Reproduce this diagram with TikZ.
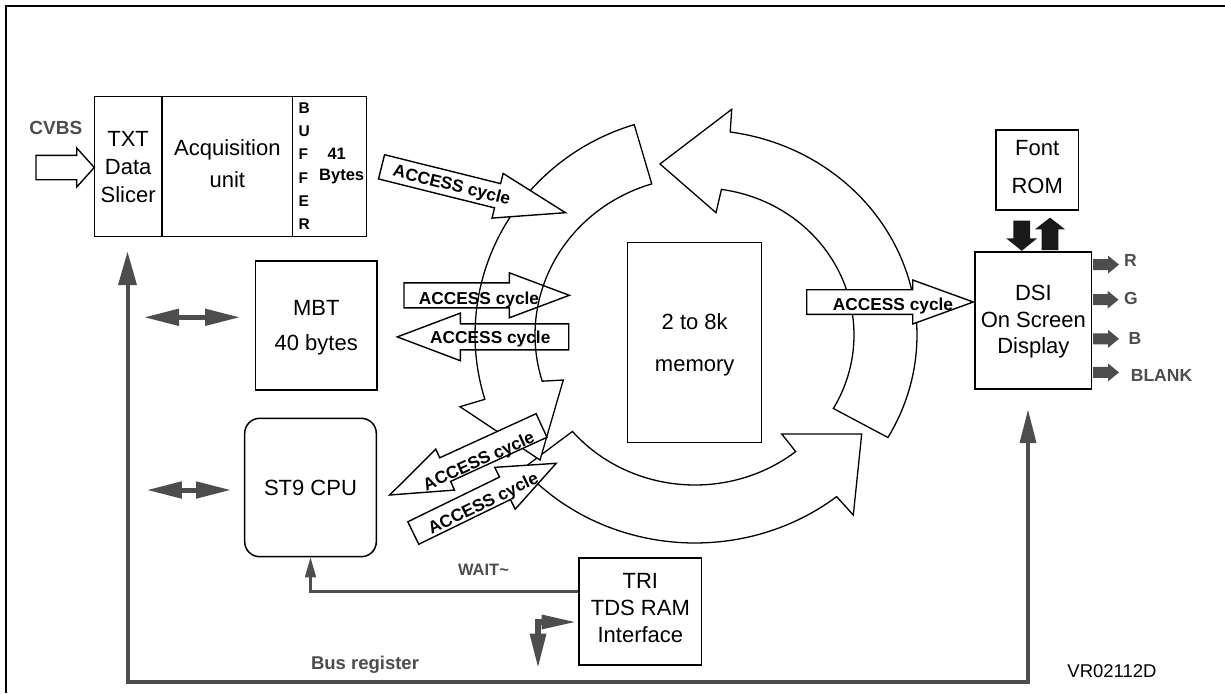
\documentclass[tikz,border=0pt]{standalone}
\usepackage{fontspec}
\setmainfont{Liberation Sans}
\usetikzlibrary{arrows.meta,calc}
\definecolor{dg}{HTML}{4D4D4F}
% block arrow: [style]{tip x}{tip y}{direction angle}{total length}{shaft half width}{head half width}{head length}
\newcommand\blkarrow[8][]{%
  \begin{scope}[shift={(#2,#3)},rotate=#4]
    \draw[#1] (0,0) -- (-#8,#7) -- (-#8,#6) -- (-#5,#6) -- (-#5,-#6) -- (-#8,-#6) -- (-#8,-#7) -- cycle;
  \end{scope}}
\begin{document}
\begin{tikzpicture}[x=1pt,y=-1pt,
  box/.style={draw=black,line width=1.5pt,inner sep=0pt,align=center,text depth=0pt},
  fs/.style={font=\fontsize{22}{#1}\selectfont},
  acc/.style={font=\bfseries\fontsize{17.3}{20}\selectfont,inner sep=0pt,text height=12.4pt,text depth=0pt},
  lbl/.style={text=dg,inner sep=0pt,anchor=base},
  whitearr/.style={draw=black,line width=1.4pt,fill=white,line join=miter},
  cleararr/.style={draw=black,line width=1.4pt,line join=miter},
  ring/.style={draw=black,line width=1.3pt,fill=white,line join=miter},
  grayarr/.style={fill=dg,draw=none},
  blackarr/.style={fill=black!90,draw=none},
  busline/.style={draw=dg,line width=4pt,{Triangle[length=33pt,width=19pt,line width=0pt]}-{Triangle[length=33pt,width=17pt,line width=0pt]}},
  dbl/.style={draw=dg,line width=5pt,{Triangle[length=34pt,width=17.5pt,line width=0pt]}-{Triangle[length=34pt,width=17.5pt,line width=0pt]}},
]
\useasboundingbox (0,0) rectangle (1225,693);
% frame
\draw[line width=2.5pt] (6,693) -- (6,6) -- (1225,6);

% ---- ring of curved arrows ----
% bottom arc
\draw[ring] plot[domain=140:51,samples=60] ({695+225*cos(\x)},{335+208*sin(\x)})
  -- (853.3,515) -- (861.7,434) -- (781.7,434)
  -- plot[domain=51:140,samples=60] ({695+160*cos(\x)},{335+150*sin(\x)}) -- cycle;
% left arc
\draw[ring] plot[domain=253:163,samples=60] ({700+225*cos(\x)},{335+220*sin(\x)})
  -- (460,406.7) -- (540,460) -- (563.3,380)
  -- plot[domain=163:253,samples=60] ({700+165*cos(\x)},{335+158*sin(\x)}) -- cycle;
% right arc
\draw[ring] plot[domain=30:-82,samples=60] ({700+217*cos(\x)},{335+205*sin(\x)})
  -- (731.7,109.3) -- (660,164) -- (716,212.7)
  -- plot[domain=-82:30,samples=60] ({700+154*cos(\x)},{335+147*sin(\x)}) -- cycle;

% ---- boxes ----
\node[box,fs=28,minimum width=67.7pt,minimum height=140pt] (txt) at (128.15,166.7) {TXT\\Data\\Slicer};
\node[box,fs=32,minimum width=130.7pt,minimum height=140pt,text depth=7.2pt] (acq) at (227.35,166.7) {Acquisition\\unit};
\node[box,minimum width=74pt,minimum height=140pt] (buf) at (329.7,166.7) {};
\node[font=\bfseries\fontsize{15.5}{23.3}\selectfont,align=left,inner sep=0pt,text depth=0pt,anchor=west] (bufT) at (298.3,166.1) {B\\U\\F\\F\\E\\R};
\node[font=\bfseries\fontsize{16.5}{18}\selectfont,inner sep=0pt,anchor=base] (n41) at (336.7,159.3) {41};
\node[font=\bfseries\fontsize{16.5}{18}\selectfont,inner sep=0pt,anchor=base] (nbytes) at (341.7,180.7) {Bytes};

\node[box,fs=35.7,minimum width=121.5pt,minimum height=129pt] (mbt) at (316.25,325.5) {MBT\\40 bytes};
\node[box,fs=28,rounded corners=15pt,minimum width=131.6pt,minimum height=138.4pt] (cpu) at (310.5,487.5) {ST9 CPU};
\node[box,fs=41.7,minimum width=134pt,minimum height=200pt] (mem) at (694.7,342.3) {2 to 8k\\memory};
\node[box,fs=37.2,minimum width=82.3pt,minimum height=80.2pt,text depth=6.4pt] (rom) at (1037.15,170.1) {Font\\ROM};
\node[box,fs=26.4,minimum width=116.7pt,minimum height=136.8pt,text depth=2pt] (dsi) at (1033.35,320.4) {DSI\\On Screen\\Display};
\node[box,fs=27,minimum width=122.7pt,minimum height=107pt,text depth=6.2pt] (tri) at (640.35,611.5) {TRI\\TDS RAM\\Interface};

% ---- ACCESS cycle arrows ----
\blkarrow[cleararr]{569.3}{295.3}{0}{165.3}{12.5}{22.5}{60}
\node[acc] (a2t) at (479,298.1) {ACCESS cycle};
\blkarrow[cleararr]{397.3}{336.9}{180}{171.4}{13}{23.8}{63}
\node[acc] (a3t) at (490.3,337.1) {ACCESS cycle};
\blkarrow[whitearr]{565.5}{212.7}{-14}{189.6}{12.5}{23}{70}
\node[acc,rotate=-14] (a1t) at (452,184.5) {ACCESS cycle};
\blkarrow[whitearr]{973.3}{302}{0}{166.6}{12.3}{22}{60.6}
\node[acc] (a4t) at (893,303.8) {ACCESS cycle};
\blkarrow[whitearr]{389.7}{495}{204.6}{167}{13}{22.5}{61}
\node[acc,rotate=24.6] (a5t) at (478.5,460.5) {ACCESS cycle};
\blkarrow[whitearr]{556.2}{463.3}{26}{159}{12.5}{23.3}{57}
\node[acc,rotate=26] (a6t) at (483,503) {ACCESS cycle};

% ---- CVBS input ----
\node[lbl,font=\bfseries\fontsize{19}{20}\selectfont] (cvbs) at (55.8,134) {CVBS};
\blkarrow[whitearr]{94.3}{167.5}{0}{58.3}{12.2}{19.5}{17.6}

% ---- Font ROM <-> DSI ----
\blkarrow[blackarr]{1021.7}{250.8}{-90}{30.1}{8.35}{15.5}{12.5}
\blkarrow[blackarr]{1050}{217.6}{90}{32.4}{8.3}{15}{11.7}

% ---- DSI outputs ----
\blkarrow[grayarr]{1119}{264.6}{0}{26}{5.5}{9}{11}
\blkarrow[grayarr]{1118.5}{299.7}{0}{25.5}{5.5}{9}{11}
\blkarrow[grayarr]{1119}{338.8}{0}{26}{5.5}{9}{11}
\blkarrow[grayarr]{1119}{372.4}{0}{26}{5.5}{9}{11}
\node[lbl,anchor=base west,font=\bfseries\fontsize{17.5}{20}\selectfont] (lr) at (1124,266.9) {R};
\node[lbl,anchor=base west,font=\bfseries\fontsize{17.5}{20}\selectfont] (lg) at (1124,304.8) {G};
\node[lbl,anchor=base west,font=\bfseries\fontsize{17.5}{20}\selectfont] (lb) at (1128.3,344.3) {B};
\node[lbl,anchor=base west,font=\bfseries\fontsize{17.5}{20}\selectfont] (lblank) at (1130.7,381.8) {BLANK};

% ---- bus ----
\coordinate (busTL) at (127.5,252);
\coordinate (busBL) at (127.5,681.5);
\coordinate (busBR) at (1028,681.5);
\coordinate (busTR) at (1028,410);
\draw[busline] (busTL) -- (busBL) -- (busBR) -- (busTR);
\node[lbl,font=\bfseries\fontsize{18.5}{20}\selectfont] (busreg) at (365,669.3) {Bus register};

% double arrows to bus
\coordinate (mbtA) at (145,317.3);
\coordinate (mbtB) at (239,317.3);
\draw[dbl] (mbtA) -- (mbtB);
\coordinate (cpuA) at (147.8,490);
\coordinate (cpuB) at (230,490);
\draw[dbl] (cpuA) -- (cpuB);

% WAIT line
\draw[draw=dg,line width=2.8pt,-{Triangle[length=20pt,width=11.5pt,line width=0pt]}] ($(tri.west)+(0,-19.8)$) -| (cpu.south);
\node[lbl,font=\bfseries\fontsize{16.5}{18}\selectfont] (wait) at (483.5,575) {WAIT\textasciitilde};

% TRI elbow arrow
\coordinate (triD) at (538,666.7);
\coordinate (triK) at (538,622);
\coordinate (triR) at (574.6,622);
\draw[draw=dg,line width=6pt,{Triangle[length=33pt,width=17pt,line width=0pt]}-{Triangle[length=33pt,width=15pt,line width=0pt]}] (triD) -- (triK) -- (triR);

\node[inner sep=0pt,anchor=base,font=\fontsize{18.5}{20}\selectfont] (vr) at (1112,677.3) {VR02112D};
\end{tikzpicture}
\end{document}
